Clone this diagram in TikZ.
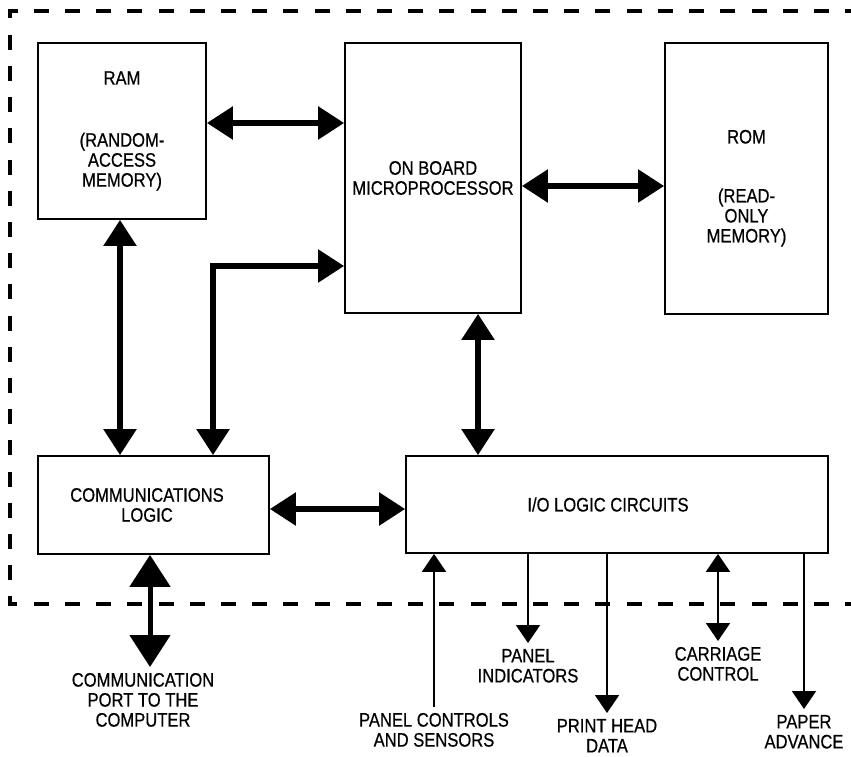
\documentclass[tikz,border=0pt]{standalone}
\usepackage{fontspec}
\setmainfont{Liberation Sans}[FakeStretch=0.85, FakeBold=0.6]
\usepackage{tikz}
\usetikzlibrary{arrows.meta}
\tikzset{
  box/.style={draw, line width=1.8pt, inner sep=0pt, align=center},
  bus/.style={line width=5.5pt, {Triangle[length=26pt, width=32pt]}-{Triangle[length=26pt, width=32pt]}},
  bigbus/.style={line width=5pt, {Triangle[length=32pt, width=40pt]}-{Triangle[length=32pt, width=40pt]}},
  wire/.style={line width=2pt, -{Triangle[length=18pt, width=24pt]}},
  wires/.style={line width=2pt, {Triangle[length=18pt, width=24pt]}-{Triangle[length=18pt, width=24pt]}},
  tag/.style={align=center, inner sep=0pt, outer sep=6pt, anchor=north},
}

\begin{document}
\begin{tikzpicture}[x=1pt, y=-1pt, font=\fontsize{19.5}{20}\selectfont]
  \useasboundingbox (0,0) rectangle (851,757);

  % dashed printer outline
  \draw[line width=4pt, dash pattern=on 15pt off 16.21pt, dash phase=9.17pt] (851,11) -- (10,11) -- (10,604) -- (851,604);

  \node[box, minimum width=168pt, minimum height=176pt] (ram) at (122,131) {RAM\\[42pt](RANDOM-\\ACCESS\\MEMORY)};
  \node[box, minimum width=176pt, minimum height=270pt] (micro) at (433,178) {ON BOARD\\MICROPROCESSOR};
  \node[box, minimum width=163pt, minimum height=271pt] (rom) at (746.5,178.5) {\rule{0pt}{33pt}ROM\\[39pt](READ-\\ONLY\\MEMORY)};
  \node[box, minimum width=231pt, minimum height=98pt] (comm) at (153.5,505) {COMMUNICATIONS\hspace*{13pt}\\LOGIC\hspace*{13pt}};
  \node[box, minimum width=422pt, minimum height=97pt] (io) at (617,504.5) {I/O LOGIC CIRCUITS\hspace*{18pt}};

  % buses
  \coordinate (a) at ([yshift=8pt]ram.east);
  \draw[bus] (a) -- (a -| micro.west);
  \coordinate (b) at ([yshift=-8pt]micro.east);
  \draw[bus] (b) -- (b -| rom.west);
  \coordinate (c) at ([xshift=-2pt]ram.south);
  \draw[bus] (c) -- (c |- comm.north);
  \draw[bus] ([yshift=-88pt]micro.west) -| ([xshift=59.5pt]comm.north);
  \coordinate (d) at ([xshift=45pt]micro.south);
  \draw[bus] (d) -- (d |- io.north);
  \coordinate (e) at ([yshift=-4pt]comm.east);
  \draw[bus] (e) -- (e -| io.west);

  % outside connections
  \node[tag] (port) at (143,667) {COMMUNICATION\\PORT TO THE\\COMPUTER};
  \coordinate (p) at ([xshift=7pt]port.north);
  \draw[bigbus] (p |- comm.south) -- (p);

  \node[tag] (ctl) at (434,707) {PANEL CONTROLS\\AND SENSORS};
  \draw[wire] (ctl.north) -- (ctl.north |- io.south);
  \node[tag] (ind) at (528,643) {PANEL\\INDICATORS};
  \draw[wire] (ind.north |- io.south) -- (ind.north);
  \node[tag] (head) at (607,713) {PRINT HEAD\\DATA};
  \draw[wire] (head.north |- io.south) -- (head.north);
  \node[tag] (car) at (718,641) {CARRIAGE\\CONTROL};
  \draw[wires] (car.north |- io.south) -- (car.north);
  \node[tag] (paper) at (804,709) {PAPER\\ADVANCE};
  \draw[wire] (paper.north |- io.south) -- (paper.north);
\end{tikzpicture}
\end{document}
